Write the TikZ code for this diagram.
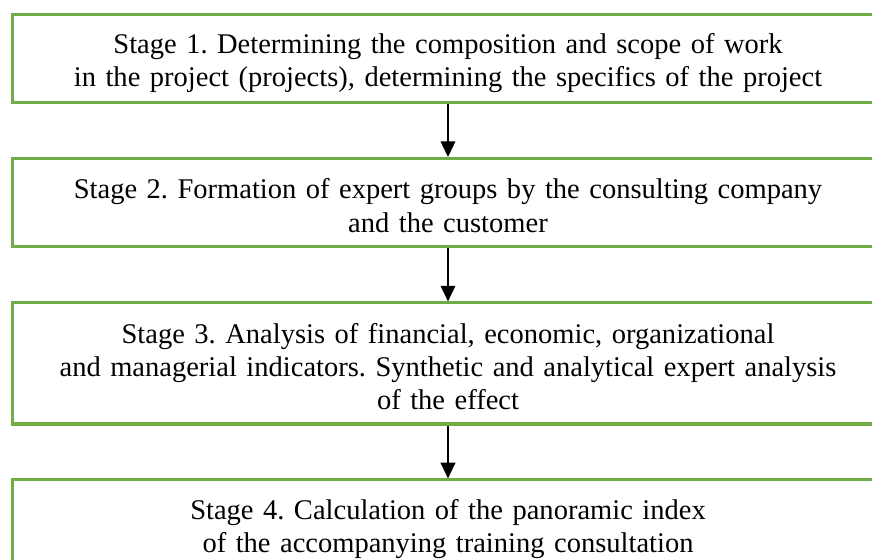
\documentclass[tikz,border=0pt]{standalone}
\usepackage{fontspec}
\setmainfont{Liberation Serif}
\usepackage{xcolor}
\usetikzlibrary{arrows.meta}

\definecolor{stagegreen}{HTML}{70AD47}

\tikzset{
  stage/.style={draw=stagegreen, line width=1.25pt, align=center,
    text width=12cm, minimum width=12.68cm, minimum height=1.28cm, inner sep=0pt,
    font=\fontsize{11.8}{13.8}\selectfont\frenchspacing,
    execute at begin node=\rule{0pt}{12.3pt},
    execute at end node=\rule[-1.65pt]{0pt}{1.65pt}},
  flow/.style={-{Triangle[length=6.5pt,width=6pt]}, line width=0.85pt}
}

\begin{document}
\begin{tikzpicture}
          \useasboundingbox (0,0) rectangle (12.683,8.145);

          \node[stage] (Scope) at (6.516,7.294) {Stage 1. Determining the composition and scope of work\\
            in the project (projects), determining the specifics of the project};
          \node[stage] (ExpertGroups) at (6.516,5.199) {Stage 2. Formation of expert groups by the consulting company\\
            and the customer};
          \node[stage, minimum height=1.76cm] (Indicators) at (6.516,2.858) {Stage 3. Analysis of financial, economic, organizational\\
            and managerial indicators. Synthetic and analytical expert analysis\\
            of the effect};
          \node[stage] (PanoramicIndex) at (6.516,0.524) {Stage 4. Calculation of the panoramic index\\
            of the accompanying training consultation};

          % arrows between the stages
          \draw[flow] (Scope) -- (ExpertGroups);
          \draw[flow] (ExpertGroups) -- (Indicators);
          \draw[flow] (Indicators) -- (PanoramicIndex);

        \end{tikzpicture}
\end{document}
